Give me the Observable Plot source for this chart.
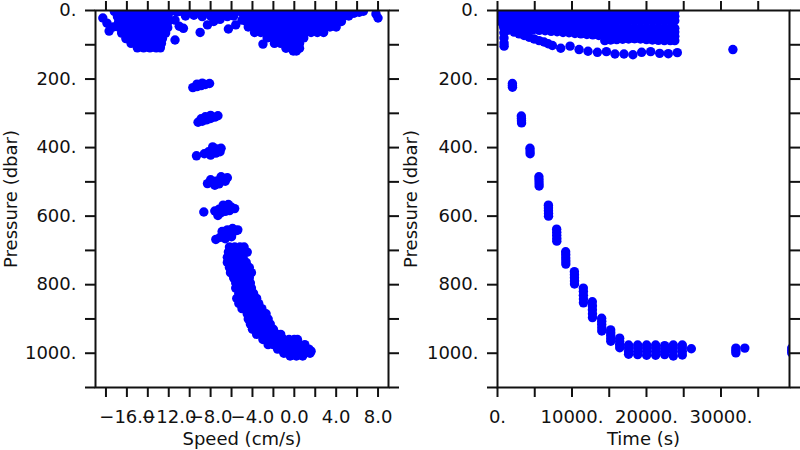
<!DOCTYPE html>
<html>
<head>
<meta charset="utf-8">
<script src="https://cdn.jsdelivr.net/npm/d3@7"></script>
<script src="https://cdn.jsdelivr.net/npm/@observablehq/plot@0.6"></script>
<style>
  html, body { margin: 0; padding: 0; background: #fff; }
  #wrap { display: flex; width: 800px; height: 450px; }
</style>
</head>
<body>
<div id="wrap"></div>
<script>
// ---------- axis ticks & labels ----------
const speedTicks = [-18,-16,-14,-12,-10,-8,-6,-4,-2,0,2,4,6,8];
const speedLabelValues = [-16,-12,-8,-4,0,4,8];
const speedLabels = ["−16.0","−12.0","−8.0","−4.0","0.0","4.0","8.0"];
const pressureTicks = [0,100,200,300,400,500,600,700,800,900,1000,1100];
const pressureLabelValues = [0,200,400,600,800,1000];
const pressureLabels = ["0.","200.","400.","600.","800.","1000."];
const timeTicks = [0,5000,10000,15000,20000,25000,30000,35000];
const timeLabelValues = [0,10000,20000,30000];
const timeLabels = ["0.","10000.","20000.","30000."];

// ---------- left panel: [speed (cm/s), pressure (dbar)] ----------
const speedSurfaceTop = [
[-17.2,3],[-16.6,3],[-16.0,3],[-15.4,3],[-14.8,3],[-14.2,3],[-13.6,3],[-13.0,3],[-12.4,3],[-11.8,3],
[-11.2,4],[-10.6,5],[-10.0,4],[-9.4,5],[-8.8,4],[-8.2,5],[-7.6,4],[-7.0,5],[-6.4,4],[-5.8,5],
[-5.2,3],[-4.6,3],[-4.0,3],[-3.4,3],[-2.8,3],[-2.2,3],[-1.6,3],[-1.0,3],[-0.4,3],[0.2,3],
[0.8,3],[1.4,3],[2.0,3],[2.6,3],[3.2,3],[3.8,3],[4.4,3],[5.0,3],[5.6,3],[6.2,3],[6.6,2]
];
const speedSurfaceWest = [
[-16.9,18],[-16.3,18],[-15.7,18],[-15.1,18],[-14.5,18],[-13.9,18],[-13.3,18],[-12.7,18],[-12.1,18],
[-16.8,34],[-16.2,34],[-15.6,34],[-15.0,34],[-14.4,34],[-13.8,34],[-13.2,34],[-12.6,34],[-12.1,34],
[-16.7,50],[-16.1,50],[-15.5,50],[-14.9,50],[-14.3,50],[-13.7,50],[-13.1,50],[-12.5,50],[-12.1,50],
[-16.5,66],[-15.9,66],[-15.3,66],[-14.7,66],[-14.1,66],[-13.5,66],[-12.9,66],[-12.3,66],
[-16.1,82],[-15.5,82],[-14.9,82],[-14.3,82],[-13.7,82],[-13.1,82],[-12.6,82],
[-15.6,96],[-15.0,96],[-14.4,96],[-13.8,96],[-13.2,96],[-12.7,96],
[-15.0,109],[-14.4,109],[-13.8,109],[-13.2,109],[-12.8,109],
[-18.3,22],[-17.9,37],[-17.7,60],[-17.3,48],[-11.4,86],[-11.4,28],[-11.0,46],[-10.6,52],
[-9.0,64],[-8.3,42],[-7.7,32],[-7.1,26],[-6.3,54],[-5.6,42],[-5.0,28],
[-10.4,16],[-9.6,14],[-8.8,18],[-8.0,16],[-7.2,14],[-6.4,18],[-5.8,16]
];
const speedSurfaceEast = [
[-4.8,16],[-4.2,16],[-3.6,16],[-3.0,16],[-2.4,16],[-1.8,16],[-1.2,16],[-0.6,16],[0.0,16],[0.6,16],[1.2,16],[1.8,16],[2.4,16],[3.0,16],[3.6,16],[4.2,16],[4.8,16],[5.2,16],
[-4.6,32],[-4.0,32],[-3.4,32],[-2.8,32],[-2.2,32],[-1.6,32],[-1.0,32],[-0.4,32],[0.2,32],[0.8,32],[1.4,32],[2.0,32],[2.6,32],[3.2,32],[3.8,32],[4.5,32],
[-4.4,48],[-3.8,48],[-3.2,48],[-2.6,48],[-2.0,48],[-1.4,48],[-0.8,48],[-0.2,48],[0.4,48],[1.0,48],[1.6,48],[2.2,48],[2.8,48],[3.4,48],[4.0,48],
[-3.8,64],[-3.2,64],[-2.6,64],[-2.0,64],[-1.4,64],[-0.8,64],[-0.2,64],[0.4,64],[1.0,64],[1.6,64],[2.2,64],[2.8,64],
[-2.6,80],[-2.0,80],[-1.4,80],[-0.8,80],[-0.2,80],[0.4,80],[0.9,80],
[-1.9,96],[-1.3,96],[-0.7,96],[-0.1,96],[0.5,96],
[-0.8,110],[-0.3,110],[0.2,110],[0.5,110],
[-0.1,118],[0.2,118],
[5.7,8],[6.2,5],[-3.0,98],[7.8,10],[8.0,22]
];
const speedDeep = [
// ~210 dbar
[-9.7,225],[-9.3,222],[-8.9,219],[-8.5,216],[-8.1,213],[-8.8,212],[-9.3,215],
// ~315 dbar
[-9.2,326],[-8.8,323],[-8.4,319],[-8.0,315],[-7.6,311],[-7.3,307],[-8.5,310],[-8.0,306],[-8.9,316],
// ~410 dbar
[-9.35,424],[-8.6,418],[-8.2,412],[-7.8,408],[-7.4,404],[-7.0,402],[-8.0,422],[-7.5,416],[-7.1,412],[-7.8,398],
// ~500 dbar
[-8.3,505],[-7.9,502],[-7.5,498],[-7.1,494],[-6.7,490],[-6.4,488],[-7.6,510],[-7.2,506],[-7.0,485],[-6.6,498],[-8.0,494],
// ~580 dbar
[-8.65,588],[-7.6,585],[-7.2,580],[-6.8,576],[-6.4,574],[-6.0,574],[-5.7,578],[-7.0,590],[-6.6,586],[-6.2,584],[-7.3,598],[-6.8,568],[-6.3,566],
// ~650 dbar
[-7.5,668],[-7.1,662],[-6.7,656],[-6.3,652],[-5.9,648],[-5.5,642],[-5.4,640],[-6.9,645],[-6.4,640],[-6.0,660],[-6.6,666],[-5.9,636],
// 690 - 1010 dbar
[-6.2,690],[-5.7,690],[-5.2,690],[-4.8,690],
[-6.3,705],[-5.8,705],[-5.3,705],[-4.8,705],[-4.5,705],
[-6.4,720],[-5.9,720],[-5.4,720],[-4.9,720],
[-6.4,735],[-5.9,735],[-5.4,735],[-4.9,735],[-4.6,735],
[-6.2,750],[-5.7,750],[-5.2,750],[-4.7,750],[-4.3,750],
[-6.1,765],[-5.6,765],[-5.1,765],[-4.6,765],[-4.1,765],
[-5.8,780],[-5.3,780],[-4.8,780],[-4.3,780],
[-5.6,795],[-5.1,795],[-4.6,795],[-4.2,795],
[-5.6,810],[-5.1,810],[-4.6,810],[-4.1,810],
[-5.3,825],[-4.8,825],[-4.3,825],[-3.9,825],
[-5.5,840],[-5.0,840],[-4.5,840],[-4.0,840],[-3.6,840],
[-5.3,855],[-4.8,855],[-4.3,855],[-3.8,855],[-3.4,855],
[-5.0,870],[-4.5,870],[-4.0,870],[-3.5,870],[-3.1,870],
[-4.5,885],[-4.0,885],[-3.5,885],[-3.0,885],[-2.7,885],
[-4.4,900],[-3.9,900],[-3.4,900],[-2.9,900],[-2.5,900],
[-4.2,915],[-3.7,915],[-3.2,915],[-2.7,915],[-2.3,915],
[-4.0,930],[-3.5,930],[-3.0,930],[-2.5,930],[-2.0,930],
[-3.6,945],[-3.1,945],[-2.6,945],[-2.1,945],[-1.6,945],[-1.3,945],
[-3.0,960],[-2.5,960],[-2.0,960],[-1.5,960],[-1.0,960],[-0.5,960],[0.0,960],[0.3,960],
[-2.5,975],[-2.0,975],[-1.5,975],[-1.0,975],[-0.5,975],[0.0,975],[0.5,975],[1.0,975],
[-1.6,988],[-1.1,988],[-0.6,988],[-0.1,988],[0.4,988],[0.9,988],[1.4,988],[1.6,994],
[-1.0,1000],[-0.5,1000],[0.0,1000],[0.5,1000],[1.0,1000],[1.5,1000],
[-0.4,1008],[0.2,1008],[0.8,1008]
];

// ---------- right panel: [time (s), pressure (dbar)] ----------
const timeBandTop = [
[0,3],[800,3],[1600,3],[2400,3],[3200,3],[4000,3],[4800,3],[5600,3],[6400,3],[7200,3],[8000,3],[8800,3],
[9600,3],[10400,3],[11200,3],[12000,3],[12800,3],[13600,3],[14400,3],[15200,3],[16000,3],[16800,3],
[17600,3],[18400,3],[19200,3],[20000,3],[20800,3],[21600,3],[22400,3],[23200,3],[23800,3]
];
const timeBandUpper = [
[0,17],[800,17],[1600,17],[2400,17],[3200,17],[4000,17],[4800,17],[5600,17],[6400,17],[7200,17],[8000,17],[8800,17],
[9600,17],[10400,17],[11200,17],[12000,17],[12800,17],[13600,17],[14400,17],[15200,17],[16000,17],[16800,17],
[17600,17],[18400,17],[19200,17],[20000,17],[20800,17],[21600,17],[22400,17],[23200,17],[23800,17]
];
const timeBandMiddle = [
[0,31],[800,31],[1600,31],[2400,31],[3200,31],[4000,31],[4800,31],[5600,31],[6400,31],[7200,31],[8000,31],[8800,31],
[9600,31],[10400,31],[11200,31],[12000,31],[12800,31],[13600,31],[14400,31],[15200,31],[16000,31],[16800,31],
[17600,31],[18400,31],[19200,31],[20000,31],[20800,31],[21600,31],[22400,31],[23200,31],[23800,30]
];
const timeBandLower = [
[800,44],[1600,45],[2400,45],[3200,46],[4000,46],[4800,46],[5600,47],[6400,47],[7200,47],[8000,48],[8800,48],
[9600,48],[10400,49],[11200,49],[12000,49],[12800,50],[13600,50],[14400,50],[15200,51],[16000,51],[16800,51],
[17600,52],[18400,52],[19200,52],[20000,52],[20800,52],[21600,52],[22400,52],[23200,52],[23800,52]
];
const timeTrackDiagonal = [
[2400,52],[3200,54],[4000,55],[4800,56],[5600,58],[6400,59],[7200,61],[8000,62],[8800,64],[9600,65],
[10400,67],[11200,68],[12000,70],[12800,71],[13600,73],[14400,74],[15200,76],[16000,77],[16800,79],
[17600,80],[18400,82],[19200,83],[20000,85],[20800,86],[21600,87],[22400,88],[23200,88],[23800,88]
];
const timeTrackFlat = [
[10400,58],[11200,60],[12000,60],[12800,61],[13600,62],[14400,62],[15200,63],[16000,62],[16800,63],
[17600,63],[18400,64],[19200,63],[20000,64],[20800,64],[21600,64],[22400,63],[23200,63],[23800,63]
];
const timeTrackCross = [
[14400,88],[15200,86],[16000,85],[16800,84],[17600,83],[18400,82],[19200,81],[20000,80],
[20800,79],[21600,78],[22400,77],[23200,76],[23800,75]
];
const timeTrackDeepest = [
[1340,58],[2230,63],[2900,68],[3570,73],[4240,78],[4910,83],[5580,88],[6250,92],[6800,97],[7370,102],
[8490,110],[9740,104],[10950,114],[12150,119],[13410,122],[14620,120],[15770,127],[16980,127],
[18180,129],[19350,122],[20560,120],[21770,125],[22930,126],[24140,123],[31600,114]
];
const timeDescent = [
[850,50],[860,65],[870,80],[880,95],[890,104],
[2000,213],[2000,219],[2010,224],
[3200,308],[3210,315],[3220,322],[3230,328],
[4360,402],[4370,410],[4380,418],
[5560,485],[5570,494],[5580,503],[5590,512],
[6830,568],[6840,576],[6840,584],[6850,592],[6850,600],
[7940,638],[7950,647],[7950,656],[7960,665],[7960,673],
[9150,704],[9160,713],[9160,722],[9170,731],[9170,740],
[10320,762],[10330,771],[10330,780],[10340,789],[10340,798],
[11520,810],[11530,820],[11530,831],[11540,842],[11540,853],
[12730,850],[12740,862],[12740,873],[12750,885],[12750,896],
[13980,898],[13990,907],[13990,916],[14000,926],[14000,935],
[15190,932],[15200,940],[15200,948],[15210,957],[15210,965],
[16400,956],[16400,965],[16400,975],[16410,984],
[17600,976],[17600,985],[17600,995],[17600,1003],
[18820,976],[18820,985],[18820,995],[18820,1004],
[20020,976],[20020,985],[20020,995],[20020,1006],
[21230,976],[21230,985],[21230,995],[21230,1006],
[22440,978],[22440,987],[22440,996],[22440,1004],
[23600,976],[23600,985],[23600,995],[23600,1008],
[24810,976],[24810,985],[24810,995],[24810,1005],
[26020,987],
[32000,985],[32000,992],[32000,999],
[33200,985],
[39500,985],[39500,992],[39500,999]
];

// ---------- drawing ----------
const font = "'DejaVu Sans', Verdana, sans-serif";
const ink = "#111";
const blue = "#0000ff";

function lookup(values, labels) {
  return d => { const i = values.indexOf(d); return i >= 0 ? labels[i] : ""; };
}

function panel({data, xDomain, xTicks, xLabelValues, xLabels, xTitle, marginLeft, marginRight}) {
  return Plot.plot({
    width: 400, height: 450,
    marginLeft, marginRight, marginTop: 10, marginBottom: 63,
    style: {fontFamily: font, fontSize: "18px", color: ink, background: "#fff", overflow: "visible"},
    x: {domain: xDomain},
    y: {domain: [0, 1100], reverse: true},
    marks: [
      Plot.dot(data, {x: d => d[0], y: d => d[1], r: 4.7, fill: blue, stroke: "none", clip: true}),
      Plot.frame({stroke: ink, strokeWidth: 2}),
      Plot.axisX({anchor: "bottom", ticks: xTicks, tickSize: 10, tickPadding: 13, strokeWidth: 2,
        tickFormat: lookup(xLabelValues, xLabels), label: null, fontSize: 18}),
      Plot.axisX({anchor: "top", ticks: xTicks, tickSize: 10, strokeWidth: 2, tickFormat: () => "", label: null}),
      Plot.axisY({anchor: "left", ticks: pressureTicks, tickSize: 10, tickPadding: 9, strokeWidth: 2,
        tickFormat: lookup(pressureLabelValues, pressureLabels), label: null, fontSize: 18}),
      Plot.axisY({anchor: "right", ticks: pressureTicks, tickSize: 10, strokeWidth: 2, tickFormat: () => "", label: null}),
      Plot.text([xTitle], {frameAnchor: "bottom", dy: 52, lineAnchor: "middle", textAnchor: "middle", fontSize: 18, fill: ink}),
      Plot.text(["Pressure (dbar)"], {frameAnchor: "left", rotate: -90, dx: -(marginLeft - 10.5), lineAnchor: "middle", textAnchor: "middle", fontSize: 18, fill: ink})
    ]
  });
}

const wrap = document.getElementById("wrap");
wrap.append(panel({
  data: [...speedSurfaceTop, ...speedSurfaceWest, ...speedSurfaceEast, ...speedDeep],
  xDomain: [-19, 9], xTicks: speedTicks, xLabelValues: speedLabelValues, xLabels: speedLabels,
  xTitle: "Speed (cm/s)", marginLeft: 95, marginRight: 12
}));
wrap.append(panel({
  data: [...timeBandTop, ...timeBandUpper, ...timeBandMiddle, ...timeBandLower, ...timeTrackDiagonal,
         ...timeTrackFlat, ...timeTrackCross, ...timeTrackDeepest, ...timeDescent],
  xDomain: [0, 39200], xTicks: timeTicks, xLabelValues: timeLabelValues, xLabels: timeLabels,
  xTitle: "Time (s)", marginLeft: 97, marginRight: 11
}));
</script>
</body>
</html>
